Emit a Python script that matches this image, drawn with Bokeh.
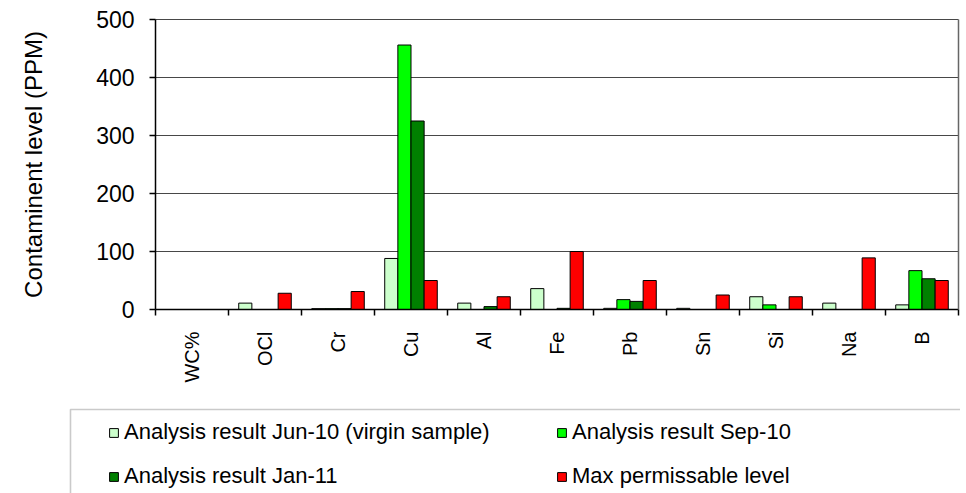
import math
from bokeh.plotting import figure
from bokeh.models import (ColumnDataSource, FixedTicker, Range1d, Legend, LegendItem,
                          LinearAxis, BoxAnnotation)
from bokeh.embed import file_html
from bokeh.resources import INLINE

categories = ["WC%", "OCl", "Cr", "Cu", "Al", "Fe", "Pb", "Sn", "Si", "Na", "B"]
jun10 = [0, 11, 1.5, 88, 11, 36, 2, 2, 22, 11, 8]
sep10 = [0, 0, 1.5, 456, 0, 0, 17, 0, 8, 0, 67]
jan11 = [0, 0, 1.5, 325, 5, 2, 14, 0, 0, 0, 53]
maxlvl = [0, 28, 31, 50, 22, 100, 50, 25, 22, 89, 50]
y_ticks = [0, 100, 200, 300, 400, 500]

series_names = ["Analysis result Jun-10 (virgin sample)", "Analysis result Sep-10",
                "Analysis result Jan-11", "Max permissable level"]
series_vals = [jun10, sep10, jan11, maxlvl]
series_colors = ["#CCFFCC", "#00FF00", "#008000", "#FF0000"]

FONT = "Liberation Sans"
n = len(categories)
centers = [i + 0.5 for i in range(n)]
bounds = [float(i) for i in range(n + 1)]
Y_MAX = 500

# ---- layout geometry (pixels) ----
W, H = 960, 493
PLOT_LEFT, PLOT_TOP, PLOT_BOTTOM = 155, 19, 309
CAT_PX = 73.0
PX_PER_UNIT = (PLOT_BOTTOM - PLOT_TOP) / Y_MAX
x0 = -PLOT_LEFT / CAT_PX
x1 = x0 + W / CAT_PX
y1 = Y_MAX + PLOT_TOP / PX_PER_UNIT
y0 = y1 - H / PX_PER_UNIT

p = figure(width=W, height=H, output_backend="svg", toolbar_location=None,
           x_range=Range1d(x0, x1), y_range=Range1d(y0, y1),
           min_border_left=0, min_border_right=0, min_border_top=0,
           min_border_bottom=0)
p.outline_line_color = None
p.background_fill_color = "white"
p.border_fill_color = "white"

# grid
p.xgrid.visible = False
p.ygrid.ticker = FixedTicker(ticks=y_ticks)
p.ygrid.grid_line_color = "#474747"
p.ygrid.grid_line_width = 1.2
try:
    p.ygrid.cross_bounds = (0, n)
except Exception:
    pass

# legend box (behind the legend)
LEG_LEFT_PX, LEG_TOP_PX = 70, 409
box = BoxAnnotation(left=x0 + LEG_LEFT_PX / CAT_PX, right=x1 + 2,
                    top=y1 - LEG_TOP_PX / PX_PER_UNIT, bottom=y0 - 100,
                    fill_color="white", fill_alpha=1.0,
                    line_color="#505050", line_width=1.6)
p.add_layout(box)

bar_w = 0.18
offsets = [-0.27, -0.09, 0.09, 0.27]
rs = []
for vals, color, off in zip(series_vals, series_colors, offsets):
    src = ColumnDataSource(dict(x=[c + off for c in centers], top=vals))
    r = p.vbar(x="x", top="top", width=bar_w, bottom=0, source=src,
               fill_color=color, line_color="black", line_width=1)
    rs.append(r)

# x axis
xa = p.xaxis[0]
xa.fixed_location = 0
xa.bounds = (0, n)
xa.ticker = FixedTicker(ticks=centers, minor_ticks=bounds)
xa.major_label_overrides = {c: lab for c, lab in zip(centers, categories)}
xa.major_label_orientation = math.pi / 2
xa.major_tick_out = 0
xa.major_tick_in = 0
xa.minor_tick_out = 6
xa.minor_tick_in = 0
xa.minor_tick_line_color = "black"
xa.minor_tick_line_width = 1.5
xa.axis_line_color = "black"
xa.axis_line_width = 1.5
xa.major_label_standoff = 16
xa.major_label_text_font = FONT
xa.major_label_text_font_size = "20px"
xa.major_label_text_color = "black"

# y axis
ya = p.yaxis[0]
ya.fixed_location = 0
ya.bounds = (0, Y_MAX)
ya.ticker = FixedTicker(ticks=y_ticks)
ya.major_tick_out = 6
ya.major_tick_in = 0
ya.minor_tick_line_color = None
ya.major_tick_line_color = "black"
ya.major_tick_line_width = 1.5
ya.axis_line_color = "black"
ya.axis_line_width = 1.5
ya.major_label_standoff = 15
ya.major_label_text_font = FONT
ya.major_label_text_font_size = "23px"
ya.major_label_text_color = "black"
ya.axis_label = "Contaminent level (PPM)"
ya.axis_label_text_font = FONT
ya.axis_label_text_font_size = "24px"
ya.axis_label_text_font_style = "normal"
ya.axis_label_text_color = "black"
ya.axis_label_standoff = 46

# right border of the plot area
ra = LinearAxis(fixed_location=n, bounds=(0, Y_MAX), ticker=FixedTicker(ticks=[]),
                axis_line_color="#666666", axis_line_width=1.5,
                major_tick_line_color=None, minor_tick_line_color=None,
                major_label_text_font_size="0px")
p.add_layout(ra, "right")

# legend: rows Jun-10 / Sep-10, then Jan-11 / Max (column-major ordering)
order = [0, 2, 1, 3]
items = [LegendItem(label=series_names[i], renderers=[rs[i]]) for i in order]
GLYPH_LEFT_PX, ROW1_CENTER_PX, ROW_PITCH = 108, 432, 44
ITEM_H = 26
SPACING = ROW_PITCH - ITEM_H
ROWS_H = 2 * ITEM_H + SPACING
legend = Legend(
    items=items, ncols=2,
    location=(GLYPH_LEFT_PX, H - (ROW1_CENTER_PX - ITEM_H / 2) - ROWS_H),
    glyph_width=11, glyph_height=11, label_standoff=5,
    label_height=ITEM_H, label_width=414, spacing=SPACING, padding=0, margin=0,
    label_text_font=FONT, label_text_font_size="22px", label_text_color="black",
    border_line_color=None, background_fill_alpha=0.0,
)
p.add_layout(legend, "center")

open("out.html", "w").write(file_html(p, INLINE))
